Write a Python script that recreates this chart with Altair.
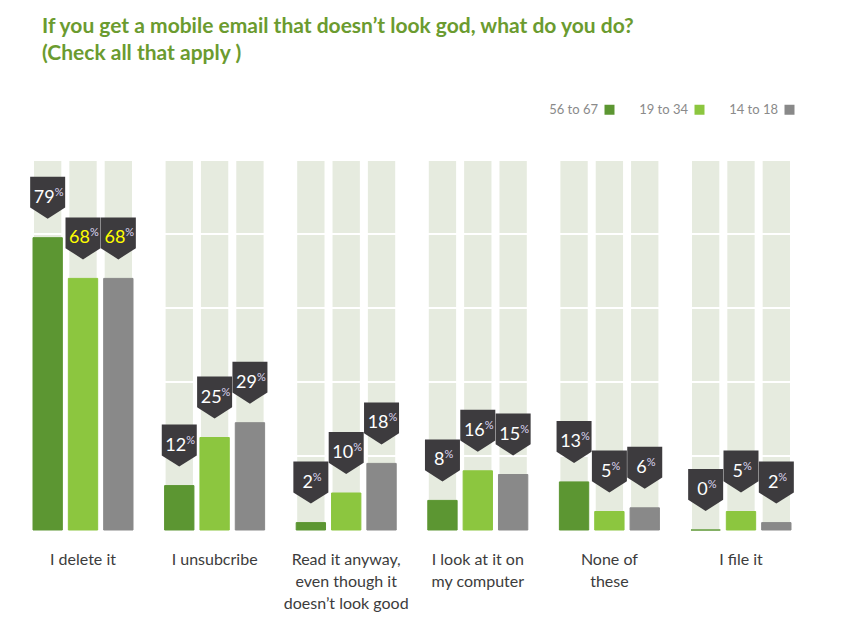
import altair as alt
import pandas as pd

categories = [
    "I delete it",
    "I unsubcribe",
    "Read it anyway,|even though it|doesn’t look good",
    "I look at it on|my computer",
    "None of|these",
    "I file it",
]
series = ["56 to 67", "19 to 34", "14 to 18"]
colors = ["#5c9632", "#8cc63f", "#898989"]
values = {
    "56 to 67": [79, 12, 2, 8, 13, 0],
    "19 to 34": [68, 25, 10, 16, 5, 5],
    "14 to 18": [68, 29, 18, 15, 6, 2],
}
highlighted = [("I delete it", "19 to 34"), ("I delete it", "14 to 18")]
grid_lows = [0, 20, 40, 60, 80]
grid_step = 20

title_lines = [
    "If you get a mobile email that doesn’t look god, what do you do?",
    "(Check all that apply )",
]

rows = []
for ci, cat in enumerate(categories):
    for s in series:
        rows.append({
            "category": cat,
            "series": s,
            "value": values[s][ci],
            "numColor": "#ffff00" if (cat, s) in highlighted else "#ffffff",
        })
df = pd.DataFrame(rows)

seg_rows = []
for cat in categories:
    for s in series:
        for lo in grid_lows:
            seg_rows.append({"category": cat, "series": s, "lo": lo, "hi": lo + grid_step})
seg_df = pd.DataFrame(seg_rows)

FONT = "Lato"

x_enc = alt.X(
    "category:N",
    sort=categories,
    scale=alt.Scale(paddingInner=0.24, paddingOuter=0),
    axis=alt.Axis(
        title=None,
        domain=False,
        ticks=False,
        labelAngle=0,
        labelFont=FONT,
        labelFontSize=16,
        labelColor="#3c3c3c",
        labelPadding=21,
        labelBaseline="top",
        labelLineHeight=22,
        labelLimit=300,
        labelExpr="split(datum.label, '|')",
    ),
)
xo_enc = alt.XOffset(
    "series:N", sort=series, scale=alt.Scale(paddingInner=0.17, paddingOuter=0)
)
y_scale = alt.Scale(domain=[0, 100], nice=False)
color_scale = alt.Scale(domain=series, range=colors)

background = alt.Chart(seg_df).mark_bar(
    color="#e6ebdf", stroke="#ffffff", strokeWidth=2
).encode(
    x=x_enc,
    xOffset=xo_enc,
    y=alt.Y("lo:Q", scale=y_scale, axis=None),
    y2="hi:Q",
)

bars = alt.Chart(df).mark_bar(strokeWidth=1).encode(
    x=x_enc,
    xOffset=xo_enc,
    y=alt.Y("value:Q", scale=y_scale, axis=None),
    color=alt.Color(
        "series:N",
        scale=color_scale,
        sort=series,
        legend=alt.Legend(
            title=None,
            orient="none",
            legendX=570,
            legendY=-57,
            direction="horizontal",
            labelAlign="right",
            labelOffset=alt.ExprRef(expr="-18"),
            symbolType="square",
            symbolSize=100,
            symbolStrokeWidth=0,
            labelFont=FONT,
            labelFontSize=13,
            labelColor="#8a8a8a",
            columnPadding=24,
            padding=0,
        ),
    ),
    stroke=alt.Stroke("series:N", scale=color_scale, sort=series, legend=None),
)

pent_path = "M-1,-1.2L1,-1.2L1,0.56L0,1.2L-1,0.56Z"
pentagons = alt.Chart(df).mark_point(
    shape=pent_path, size=1225, filled=True, opacity=1, strokeWidth=0, yOffset=-40
).encode(
    x=x_enc,
    xOffset=xo_enc,
    y=alt.Y("value:Q", scale=y_scale, axis=None),
    color=alt.value("#3d3b3e"),
)


def labels(filter_expr, dx):
    base = alt.Chart(df).transform_filter(filter_expr)
    num = base.mark_text(
        align="right", baseline="alphabetic", dx=dx, dy=-35, fontSize=18, font=FONT
    ).encode(
        x=x_enc,
        xOffset=xo_enc,
        y=alt.Y("value:Q", scale=y_scale, axis=None),
        text=alt.Text("value:Q"),
        color=alt.Color("numColor:N", scale=None),
    )
    pct = base.mark_text(
        align="left", baseline="alphabetic", dx=dx, dy=-42, fontSize=11, font=FONT,
        color="#dcd6f2",
    ).encode(
        x=x_enc,
        xOffset=xo_enc,
        y=alt.Y("value:Q", scale=y_scale, axis=None),
        text=alt.value("%"),
    )
    return [num, pct]


layers = [background, bars, pentagons]
layers += labels("datum.value >= 10", 7)
layers += labels("datum.value < 10", 2)

chart = alt.layer(*layers).properties(
    width=758,
    height=370,
    autosize=alt.AutoSizeParams(type="none"),
    padding={"left": 25, "top": 152, "right": 40, "bottom": 90},
    title=alt.TitleParams(
        text=title_lines,
        anchor="start",
        frame="group",
        font=FONT,
        fontSize=21,
        fontWeight="bold",
        color="#6b9b2f",
        lineHeight=27,
        offset=39,
        dx=9,
    ),
).configure_view(stroke=None)

chart.save("out.html", embed_options={"renderer": "svg", "actions": False})
